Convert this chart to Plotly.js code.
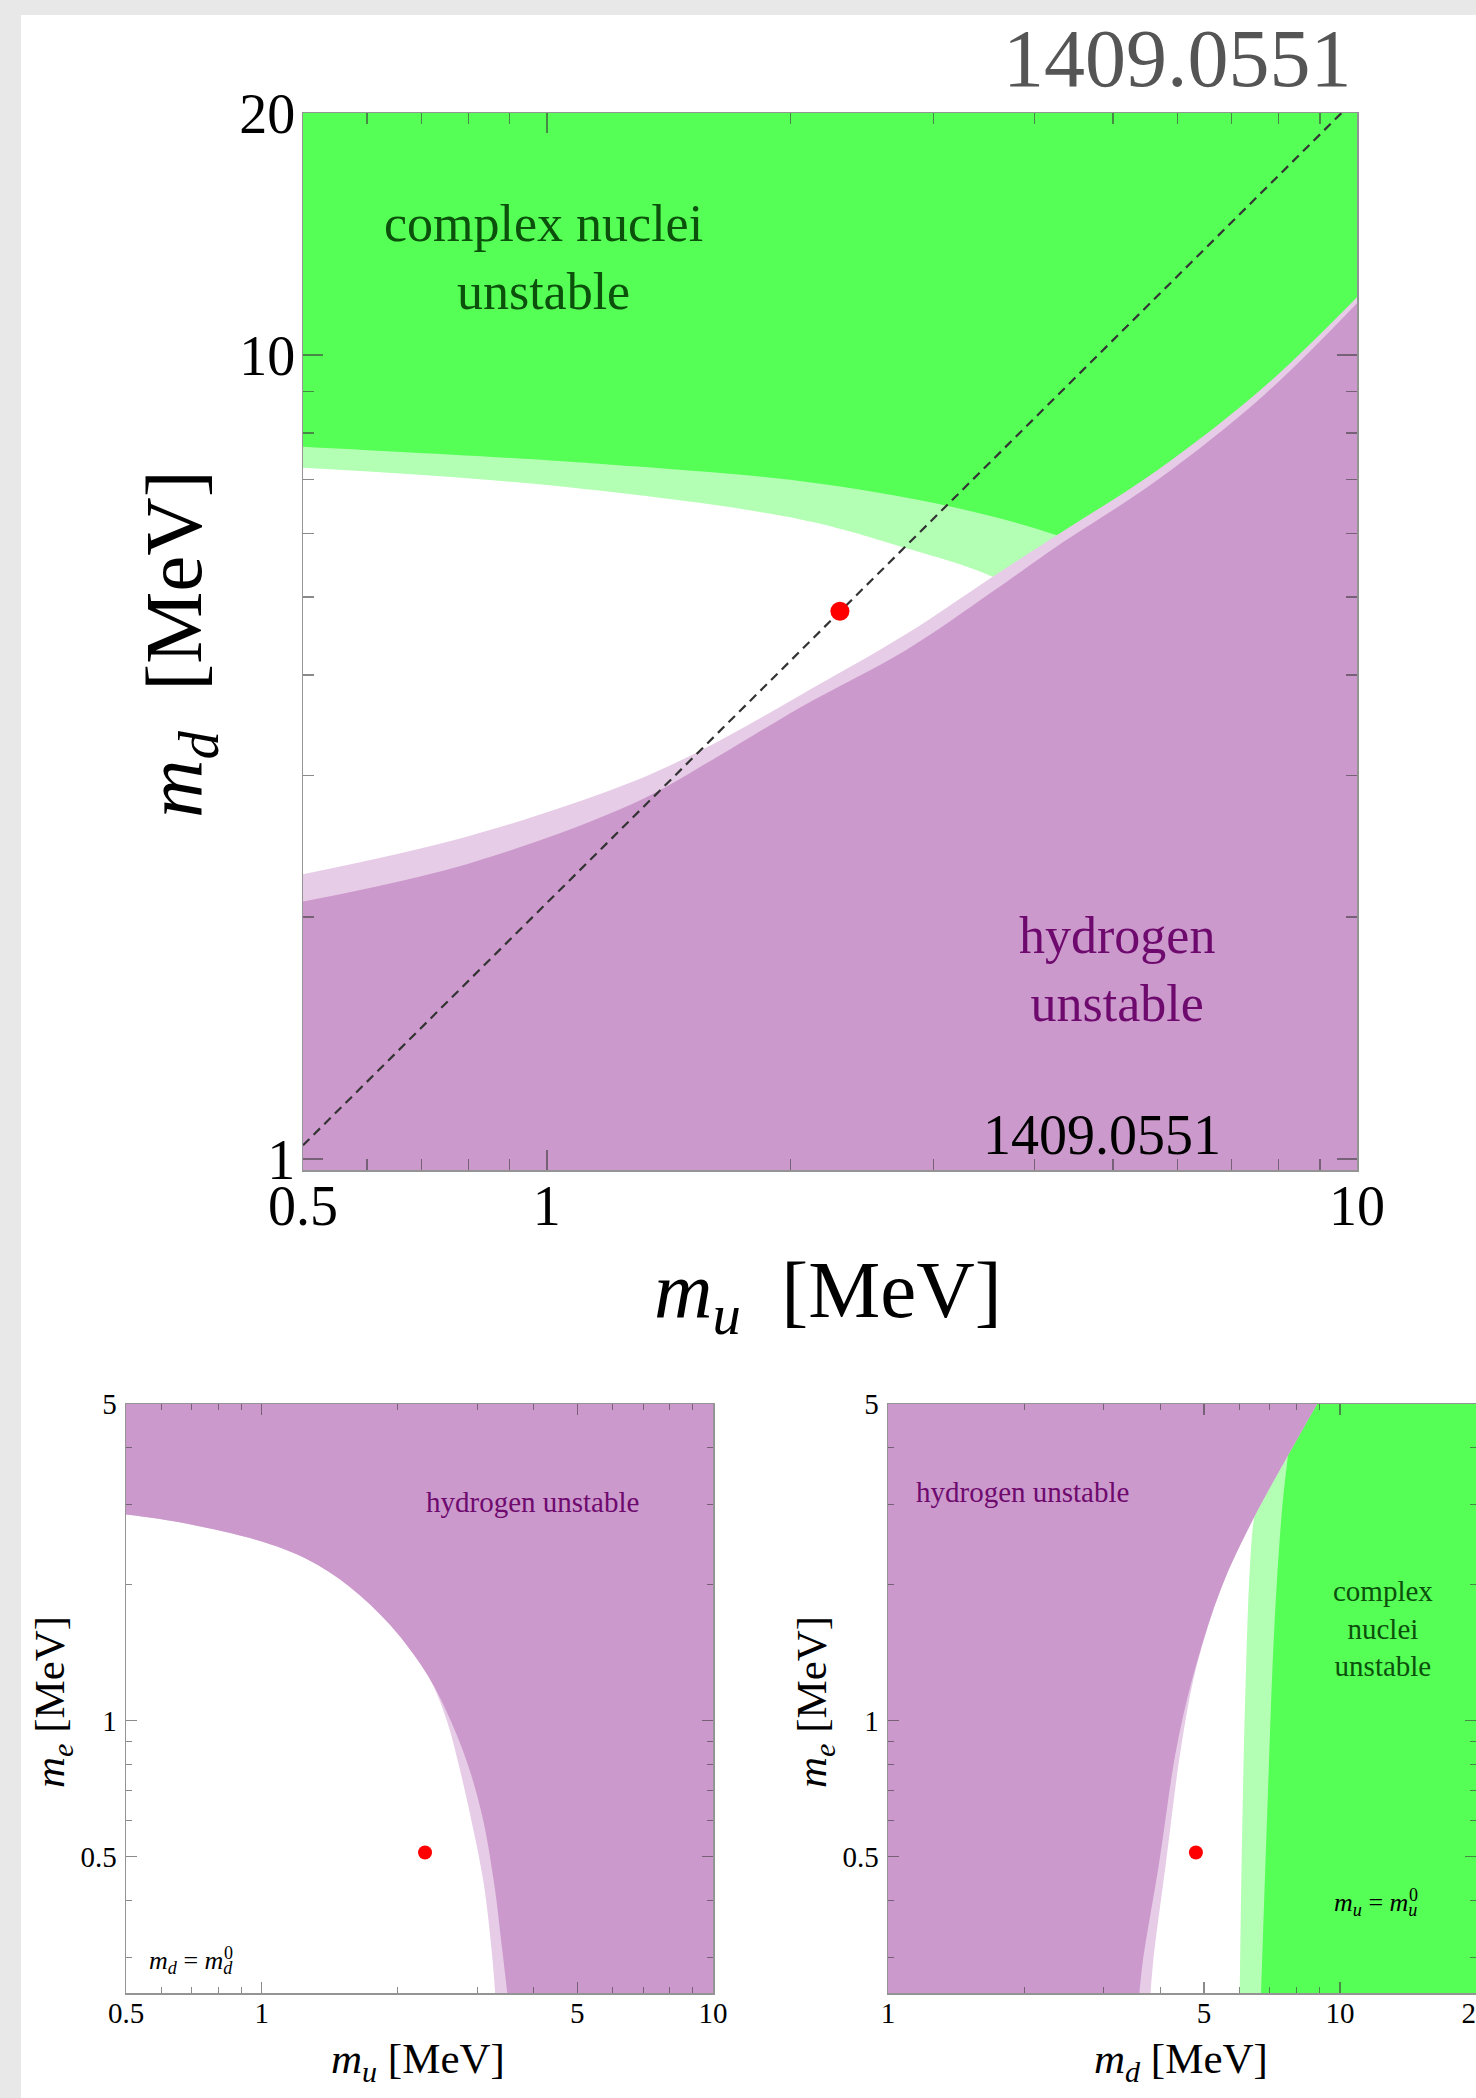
<!DOCTYPE html>
<html>
<head>
<meta charset="utf-8">
<script src="https://cdn.plot.ly/plotly-3.0.1.min.js"></script>
<style>
  html, body { margin: 0; padding: 0; background: #ffffff; width: 1476px; height: 2098px; overflow: hidden; }
  #chart { position: absolute; left: 0; top: 0; width: 1476px; height: 2098px; }
</style>
</head>
<body>
<div id="chart"></div>
<script>
// ---------------- DATA ----------------
// Top panel: m_u (x) vs m_d (y), MeV
const topMuRange = [0.5, 10];
const topMdRange = [0.969, 20];
const topHydMu      = [0.5, 0.8, 1.28, 1.62, 2.05, 2.78, 3.55, 4.26, 5.67, 7.68, 10];
const topHydDarkMd  = [2.09, 2.33, 2.77, 3.16, 3.64, 4.30, 5.08, 5.78, 6.99, 8.92, 11.6];
const topHydLightMd = [2.26, 2.52, 2.95, 3.30, 3.77, 4.50, 5.30, 5.97, 7.19, 9.13, 11.8];
const topNucDarkMu  = [0.5, 1.0, 1.28, 2.05, 3.15, 4.26, 5.5, 10];
const topNucDarkMd  = [7.69, 7.40, 7.27, 6.97, 6.48, 5.97, 5.4, 4.5];
const topNucLightMu = [0.5, 1.0, 2.05, 2.78, 3.55, 5.0, 10];
const topNucLightMd = [7.24, 6.89, 6.25, 5.75, 5.30, 4.4, 3.0];
const topDashMu = [0.5, 10];
const topDashMd = [1.04, 20.9];
const topPointMu = [2.3];
const topPointMd = [4.8];
const topXTicks = [0.5, 1, 10];
const topXTickText = ['0.5', '1', '10'];
const topYTicks = [1, 10, 20];
const topYTickText = ['1', '10', '20'];
const topXMinor = [0.6, 0.7, 0.8, 0.9, 2, 3, 4, 5, 6, 7, 8, 9];
const topYMinor = [2, 3, 4, 5, 6, 7, 8, 9];

// Bottom-left panel: m_u (x) vs m_e (y), m_d = m_d^0
const blMuRange = [0.5, 10];
const blMeRange = [0.25, 5];
const blHydDarkMu  = [0.5, 0.67, 1.02, 1.26, 1.56, 1.93, 2.34, 2.62, 2.86, 3.08, 3.27, 3.41, 3.5];
const blHydDarkMe  = [2.85, 2.73, 2.47, 2.27, 1.98, 1.62, 1.25, 1.0, 0.80, 0.615, 0.439, 0.312, 0.25];
const blHydLightMu = [0.5, 0.67, 1.02, 1.26, 1.56, 1.93, 2.34, 2.57, 2.73, 2.90, 3.10, 3.23, 3.29];
const blHydLightMe = [2.85, 2.73, 2.47, 2.27, 1.98, 1.62, 1.25, 1.0, 0.80, 0.615, 0.439, 0.312, 0.25];
const blPointMu = [2.3];
const blPointMe = [0.511];
const blXTicks = [0.5, 1, 5, 10];
const blXTickText = ['0.5', '1', '5', '10'];
const blXMinor = [0.6, 0.7, 0.8, 0.9, 2, 3, 4, 6, 7, 8, 9];

// Bottom-right panel: m_d (x) vs m_e (y), m_u = m_u^0
const brMdRange = [1, 20];
const brMeRange = [0.25, 5];
const brHydDarkMd  = [3.6, 3.66, 3.98, 4.35, 4.8, 5.47, 6.42, 7.7, 8.9];
const brHydLightMd = [3.81, 3.86, 4.12, 4.45, 4.82, 5.47, 6.42, 7.7, 8.9];
const brHydMe      = [0.25, 0.292, 0.484, 0.87, 1.32, 1.97, 2.78, 3.87, 5];
const brNucDarkMd  = [6.69, 6.89, 7.16, 7.45, 7.68, 7.9];
const brNucDarkMe  = [0.25, 0.59, 1.61, 2.94, 3.87, 5];
const brNucLightMd = [6.0, 6.08, 6.2, 6.32, 6.43, 6.7, 7.0];
const brNucLightMe = [0.25, 0.59, 1.32, 2.18, 2.72, 3.5, 5];
const brPointMd = [4.8];
const brPointMe = [0.511];
const brXTicks = [1, 5, 10, 20];
const brXTickText = ['1', '5', '10', '20'];
const brXMinor = [2, 3, 4, 6, 7, 8, 9];

const bYTicks = [0.5, 1, 5];
const bYTickText = ['0.5', '1', '5'];
const bYMinor = [0.3, 0.4, 0.6, 0.7, 0.8, 0.9, 2, 3, 4];

// Text
const paperId = '1409.0551';
const labelNuclei = 'complex nuclei<br>unstable';
const labelHydrogen = 'hydrogen<br>unstable';
const labelHydrogenOne = 'hydrogen unstable';
const labelNucleiStack = 'complex<br>nuclei<br>unstable';

// ---------------- STYLE ----------------
const C_GREEN = '#55ff55', C_LGREEN = '#b3ffb3';
const C_PURPLE = '#cc99cc', C_LPURPLE = '#e6cce6';
const C_GTEXT = '#0b500b', C_PTEXT = '#6e0a6e';
const C_PAGE_GRAY = '#e8e8e8';
const SERIF = 'Liberation Serif, Times New Roman, serif';
const W = 1476, H = 2098;
const px = v => v / W;
const py = v => 1 - v / H;
const L = Math.log10;

function baseTrace(xs, ys, xa, ya) {
  return { x: xs, y: ys, xaxis: xa, yaxis: ya, type: 'scatter', mode: 'lines',
    line: { width: 0, color: 'rgba(0,0,0,0)' }, hoverinfo: 'skip', showlegend: false };
}
function curveFill(xs, ys, color, xa, ya) {
  return { x: xs, y: ys, xaxis: xa, yaxis: ya, type: 'scatter', mode: 'lines',
    fill: 'tonexty', fillcolor: color, line: { width: 0, color: color, shape: 'spline', smoothing: 1 },
    hoverinfo: 'skip', showlegend: false };
}

const traces = [];
// ---- top panel ----
const topBaseUpper = [[topMuRange[0], topMuRange[1]], [topMdRange[1], topMdRange[1]]];
const topBaseLower = [[topMuRange[0], topMuRange[1]], [topMdRange[0], topMdRange[0]]];
traces.push(baseTrace(topBaseUpper[0], topBaseUpper[1], 'x', 'y'));
traces.push(curveFill(topNucLightMu, topNucLightMd, C_LGREEN, 'x', 'y'));
traces.push(baseTrace(topBaseUpper[0], topBaseUpper[1], 'x', 'y'));
traces.push(curveFill(topNucDarkMu, topNucDarkMd, C_GREEN, 'x', 'y'));
traces.push(baseTrace(topBaseLower[0], topBaseLower[1], 'x', 'y'));
traces.push(curveFill(topHydMu, topHydLightMd, C_LPURPLE, 'x', 'y'));
traces.push(baseTrace(topBaseLower[0], topBaseLower[1], 'x', 'y'));
traces.push(curveFill(topHydMu, topHydDarkMd, C_PURPLE, 'x', 'y'));
traces.push({ x: topDashMu, y: topDashMd, xaxis: 'x', yaxis: 'y', type: 'scatter', mode: 'lines',
  line: { color: '#333333', width: 2.2, dash: '9px,6px' }, hoverinfo: 'skip', showlegend: false });
traces.push({ x: topPointMu, y: topPointMd, xaxis: 'x', yaxis: 'y', type: 'scatter', mode: 'markers',
  marker: { color: '#ff0000', size: 19 }, hoverinfo: 'skip', showlegend: false });

// ---- bottom-left panel ----
const blBase = [[blMuRange[0], blMuRange[1], blMuRange[1]], [blMeRange[1], blMeRange[1], blMeRange[0]]];
traces.push(baseTrace(blBase[0], blBase[1], 'x2', 'y2'));
traces.push(curveFill(blHydLightMu, blHydLightMe, C_LPURPLE, 'x2', 'y2'));
traces.push(baseTrace(blBase[0], blBase[1], 'x2', 'y2'));
traces.push(curveFill(blHydDarkMu, blHydDarkMe, C_PURPLE, 'x2', 'y2'));
traces.push({ x: blPointMu, y: blPointMe, xaxis: 'x2', yaxis: 'y2', type: 'scatter', mode: 'markers',
  marker: { color: '#ff0000', size: 14 }, hoverinfo: 'skip', showlegend: false });

// ---- bottom-right panel ----
const brBaseRight = [[brMdRange[1], brMdRange[1]], [brMeRange[0], brMeRange[1]]];
const brBaseLeft = [[brMdRange[0], brMdRange[0]], [brMeRange[0], brMeRange[1]]];
traces.push(baseTrace(brBaseRight[0], brBaseRight[1], 'x3', 'y3'));
traces.push(curveFill(brNucLightMd, brNucLightMe, C_LGREEN, 'x3', 'y3'));
traces.push(baseTrace(brBaseRight[0], brBaseRight[1], 'x3', 'y3'));
traces.push(curveFill(brNucDarkMd, brNucDarkMe, C_GREEN, 'x3', 'y3'));
traces.push(baseTrace(brBaseLeft[0], brBaseLeft[1], 'x3', 'y3'));
traces.push(curveFill(brHydLightMd, brHydMe, C_LPURPLE, 'x3', 'y3'));
traces.push(baseTrace(brBaseLeft[0], brBaseLeft[1], 'x3', 'y3'));
traces.push(curveFill(brHydDarkMd, brHydMe, C_PURPLE, 'x3', 'y3'));
traces.push({ x: brPointMd, y: brPointMe, xaxis: 'x3', yaxis: 'y3', type: 'scatter', mode: 'markers',
  marker: { color: '#ff0000', size: 14 }, hoverinfo: 'skip', showlegend: false });

function axis(opts) {
  const big = opts.big;
  return Object.assign({
    type: 'log', showgrid: false, zeroline: false,
    showline: true, linecolor: 'rgba(60,60,60,0.55)', linewidth: 1.5, mirror: 'allticks',
    ticks: 'inside', ticklen: big ? 20 : 11, tickwidth: big ? 1.5 : 1.2, tickcolor: 'rgba(60,60,60,0.6)',
    tickmode: 'array',
    tickfont: { family: SERIF, size: big ? 56 : 29, color: '#000' },
    minor: { tickmode: 'array', tickvals: opts.minor, ticks: 'inside', ticklen: big ? 11 : 6,
             tickwidth: big ? 1.3 : 1, tickcolor: 'rgba(60,60,60,0.6)', showgrid: false },
    fixedrange: true
  }, opts.extra);
}

function supAnn(xref, yref, x, y, xshift, yshift) {
  return { text: '0', xref: xref, yref: yref, x: x, y: y, xanchor: 'left', yanchor: 'middle',
    xshift: xshift, yshift: yshift, showarrow: false, font: { family: SERIF, size: 18, color: '#000' } };
}

const layout = {
  width: W, height: H,
  margin: { l: 0, r: 0, t: 0, b: 0 },
  paper_bgcolor: '#ffffff', plot_bgcolor: '#ffffff',
  showlegend: false,
  shapes: [
    { type: 'rect', xref: 'paper', yref: 'paper', x0: 0, x1: 1, y0: py(15), y1: 1,
      fillcolor: C_PAGE_GRAY, line: { width: 0 }, layer: 'below' },
    { type: 'rect', xref: 'paper', yref: 'paper', x0: 0, x1: px(21), y0: 0, y1: 1,
      fillcolor: C_PAGE_GRAY, line: { width: 0 }, layer: 'below' }
  ],
  xaxis: axis({ big: true, minor: topXMinor, extra: {
    domain: [px(303), px(1357)], anchor: 'y', range: [L(topMuRange[0]), L(topMuRange[1])],
    tickvals: topXTicks, ticktext: topXTickText, ticklabelstandoff: -14 } }),
  yaxis: axis({ big: true, minor: topYMinor, extra: {
    domain: [py(1170), py(113)], anchor: 'x', range: [L(topMdRange[0]), L(topMdRange[1])],
    tickvals: topYTicks, ticktext: topYTickText, ticklabelstandoff: -5 } }),
  xaxis2: axis({ big: false, minor: blXMinor, extra: {
    domain: [px(126), px(713)], anchor: 'y2', range: [L(blMuRange[0]), L(blMuRange[1])],
    tickvals: blXTicks, ticktext: blXTickText, ticklabelstandoff: -6 } }),
  yaxis2: axis({ big: false, minor: bYMinor, extra: {
    domain: [py(1993), py(1404)], anchor: 'x2', range: [L(blMeRange[0]), L(blMeRange[1])],
    tickvals: bYTicks, ticktext: bYTickText, ticklabelstandoff: 2 } }),
  xaxis3: axis({ big: false, minor: brXMinor, extra: {
    domain: [px(888), 1], anchor: 'y3', range: [L(brMdRange[0]), L(brMdRange[1])],
    tickvals: brXTicks, ticktext: brXTickText, ticklabelstandoff: -6, ticklabeloverflow: 'allow' } }),
  yaxis3: axis({ big: false, minor: bYMinor, extra: {
    domain: [py(1993), py(1404)], anchor: 'x3', range: [L(brMeRange[0]), L(brMeRange[1])],
    tickvals: bYTicks, ticktext: bYTickText, ticklabelstandoff: 2 } }),
  annotations: [
    // top watermark outside
    { text: paperId, xref: 'paper', yref: 'paper', x: px(1177), y: py(58), xanchor: 'center', yanchor: 'middle',
      showarrow: false, font: { family: SERIF, size: 82, color: '#555555' } },
    // top panel labels
    { text: labelNuclei, xref: 'x', yref: 'y', x: L(0.99), y: L(13.24), xanchor: 'center', yanchor: 'middle',
      showarrow: false, font: { family: SERIF, size: 52, color: C_GTEXT } },
    { text: labelHydrogen, xref: 'x', yref: 'y', x: L(5.06), y: L(1.72), xanchor: 'center', yanchor: 'middle',
      showarrow: false, font: { family: SERIF, size: 52, color: C_PTEXT } },
    { text: paperId, xref: 'x', yref: 'y', x: L(4.84), y: L(1.07), xanchor: 'center', yanchor: 'middle',
      showarrow: false, font: { family: SERIF, size: 56, color: '#000000' } },
    // top axis titles
    { text: '<i>m</i><sub><i>u</i></sub>\u00A0\u00A0[MeV]', xref: 'paper', yref: 'paper', x: px(828), y: py(1295),
      xanchor: 'center', yanchor: 'middle', showarrow: false, font: { family: SERIF, size: 81, color: '#000' } },
    { text: '<i>m</i><sub><i>d</i></sub>\u00A0\u00A0[MeV]', xref: 'paper', yref: 'paper', x: px(179), y: py(644),
      xanchor: 'center', yanchor: 'middle', textangle: -90, showarrow: false, font: { family: SERIF, size: 81, color: '#000' } },
    // bottom-left labels
    { text: labelHydrogenOne, xref: 'x2', yref: 'y2', x: L(3.99), y: L(3.03), xanchor: 'center', yanchor: 'middle',
      showarrow: false, font: { family: SERIF, size: 29, color: C_PTEXT } },
    { text: '<i>m</i><sub><i>d</i></sub> = <i>m</i><sub><i>d</i></sub>', xref: 'x2', yref: 'y2', x: L(0.697), y: L(0.292),
      xanchor: 'center', yanchor: 'middle', showarrow: false, font: { family: SERIF, size: 26, color: '#000' } },
    supAnn('x2', 'y2', L(0.697), L(0.292), 31, 9),
    { text: '<i>m</i><sub><i>u</i></sub> [MeV]', xref: 'paper', yref: 'paper', x: px(418), y: py(2062),
      xanchor: 'center', yanchor: 'middle', showarrow: false, font: { family: SERIF, size: 43, color: '#000' } },
    { text: '<i>m</i><sub><i>e</i></sub> [MeV]', xref: 'paper', yref: 'paper', x: px(53), y: py(1702),
      xanchor: 'center', yanchor: 'middle', textangle: -90, showarrow: false, font: { family: SERIF, size: 43, color: '#000' } },
    // bottom-right labels
    { text: labelHydrogenOne, xref: 'x3', yref: 'y3', x: L(1.987), y: L(3.19), xanchor: 'center', yanchor: 'middle',
      showarrow: false, font: { family: SERIF, size: 29, color: C_PTEXT } },
    { text: labelNucleiStack, xref: 'x3', yref: 'y3', x: L(12.45), y: L(1.60), xanchor: 'center', yanchor: 'middle',
      showarrow: false, font: { family: SERIF, size: 29, color: C_GTEXT } },
    { text: '<i>m</i><sub><i>u</i></sub> = <i>m</i><sub><i>u</i></sub>', xref: 'x3', yref: 'y3', x: L(12.0), y: L(0.393),
      xanchor: 'center', yanchor: 'middle', showarrow: false, font: { family: SERIF, size: 26, color: '#000' } },
    supAnn('x3', 'y3', L(12.0), L(0.393), 31, 9),
    { text: '<i>m</i><sub><i>d</i></sub> [MeV]', xref: 'paper', yref: 'paper', x: px(1181), y: py(2062),
      xanchor: 'center', yanchor: 'middle', showarrow: false, font: { family: SERIF, size: 43, color: '#000' } },
    { text: '<i>m</i><sub><i>e</i></sub> [MeV]', xref: 'paper', yref: 'paper', x: px(815), y: py(1702),
      xanchor: 'center', yanchor: 'middle', textangle: -90, showarrow: false, font: { family: SERIF, size: 43, color: '#000' } }
  ]
};

Plotly.newPlot('chart', traces, layout, { staticPlot: true, displayModeBar: false });
</script>
</body>
</html>
